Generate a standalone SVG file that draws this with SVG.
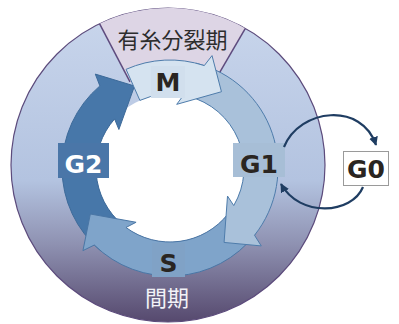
<svg xmlns="http://www.w3.org/2000/svg" width="399" height="324" viewBox="0 0 399 324">
<defs>
<linearGradient id="ringGrad" x1="0" y1="8" x2="0" y2="322" gradientUnits="userSpaceOnUse">
<stop offset="0" stop-color="#c9d6ec"/>
<stop offset="0.55" stop-color="#b3c3e0"/>
<stop offset="0.75" stop-color="#8f92b2"/>
<stop offset="1" stop-color="#56496e"/>
</linearGradient>
<marker id="ah" viewBox="0 0 10 10" refX="9" refY="5" markerWidth="9" markerHeight="9" markerUnits="userSpaceOnUse" orient="auto">
<path d="M0,0 L10,5 L0,10 Z" fill="#1f3d62"/>
</marker>
<style>
.arrow{stroke-width:1;stroke-linejoin:miter}
.lbl{font-family:"DejaVu Sans","Liberation Sans",sans-serif;font-weight:bold;font-size:25px;text-anchor:middle}
.jp{font-family:"Noto Sans CJK JP","Noto Sans CJK SC",sans-serif;font-size:22px;text-anchor:middle}
.conn{fill:none;stroke:#1f3d62;stroke-width:2.2;marker-end:url(#ah)}
</style>
</defs>

<g id="background-ring">
<circle cx="168" cy="165" r="157" fill="url(#ringGrad)" stroke="#5c4b7c" stroke-width="1.2"/>
<path d="M99.5,23.7 A157,157 0 0 1 245.36,28.39 L215.2,80.2 Q170,70 130.5,82.7 Z" fill="#ddd5e5"/>
<line x1="99.5" y1="23.7" x2="130" y2="81.8" stroke="#5e4b7e" stroke-width="1.5"/>
<line x1="245.36" y1="28.39" x2="215.2" y2="80.2" stroke="#5e4b7e" stroke-width="1.5"/>
<circle cx="170" cy="168" r="74" fill="#ffffff"/>
<text class="jp" x="172.5" y="48" fill="#2d2d2d">有糸分裂期</text>
<text class="jp" x="167" y="306" fill="#f2f2f7">間期</text>
</g>

<g id="arrow-G2">
<path class="arrow" d="M100.58,250.73 A108,108 0 0 1 99.87,85.88 L95.30,74.09 L134.5,86 L118.89,129.48 L114.58,118.97 A74,74 0 0 0 122.43,224.69 Z" fill="#4777a9" stroke="#3d6a99"/>
</g>
<g id="arrow-S">
<path class="arrow" d="M255.10,234.49 A108,108 0 0 1 94.30,245.04 L82.95,250.61 L90.33,214.0 L136.09,222.27 L125.98,227.49 A74,74 0 0 0 228.31,213.56 Z" fill="#7fa4ca" stroke="#4a76a5"/>
</g>
<g id="arrow-G1">
<path class="arrow" d="M196.13,63.21 A108,108 0 0 1 254.52,235.23 L261.25,245.93 L224.08,242.43 L227.52,196.06 L233.76,205.56 A74,74 0 0 0 187.90,96.20 Z" fill="#a9c1da" stroke="#4e7cab"/>
</g>
<g id="arrow-M">
<path class="arrow" d="M126.07,69.34 A108,108 0 0 1 204.27,65.58 L212.02,55.6 L221.44,91.73 L176.69,104.35 L183.48,95.24 A74,74 0 0 0 139.9,100.4 Z" fill="#d5e3f0" stroke="#4e7cab"/>
</g>

<g id="node-M">
<rect x="151" y="66" width="34" height="32" fill="#d1dfed"/>
<text class="lbl" x="168" y="90.5" fill="#2a2521">M</text>
</g>
<g id="node-G1">
<rect x="233" y="143" width="52" height="34" fill="#a7bed6"/>
<text class="lbl" x="259" y="172.5" fill="#2a2521">G1</text>
</g>
<g id="node-G2">
<rect x="58" y="143" width="51" height="35" fill="#4a76a8"/>
<text class="lbl" x="83.5" y="172.5" fill="#ffffff">G2</text>
</g>
<g id="node-S">
<rect x="152" y="243" width="33" height="34" fill="#80a2c6"/>
<text class="lbl" x="168.5" y="271.5" fill="#2a2521">S</text>
</g>
<g id="node-G0">
<rect x="343.5" y="151.5" width="45" height="34" fill="#ffffff" stroke="#9a9a9a" stroke-width="1"/>
<text class="lbl" x="366" y="178" fill="#2a2521">G0</text>
</g>

<g id="connectors">
<path class="conn" d="M284,147 C300,108 362,102 376,145"/>
<path class="conn" d="M363,187 C352,214 300,218 281,184"/>
</g>
</svg>
